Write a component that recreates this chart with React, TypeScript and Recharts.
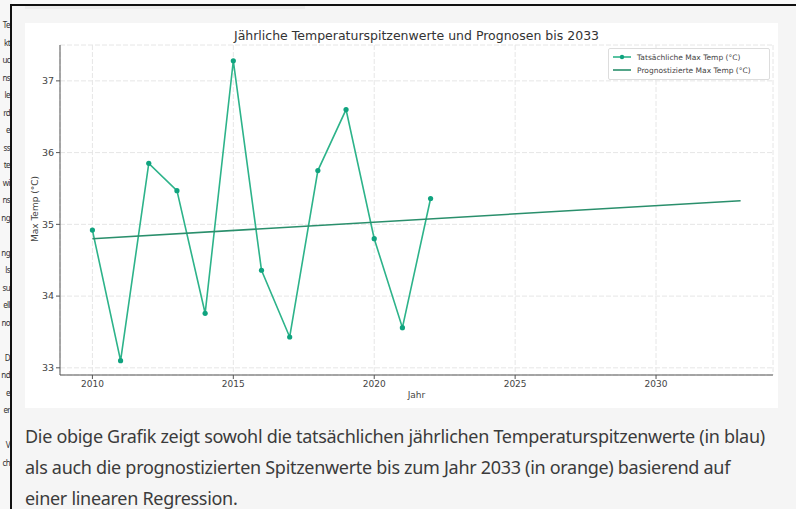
import { LineChart, Line, XAxis, YAxis, CartesianGrid } from 'recharts';

// values
const years = [2010, 2011, 2012, 2013, 2014, 2015, 2016, 2017, 2018, 2019, 2020, 2021, 2022];
const actualTemps = [34.92, 33.1, 35.85, 35.47, 33.76, 37.28, 34.36, 33.43, 35.75, 36.6, 34.8, 33.56, 35.36];
const trendYears = [2010, 2033];
const trendTemps = [34.8, 35.33];
const xTicks = [2010, 2015, 2020, 2025, 2030];
const yTicks = [33, 34, 35, 36, 37];

const title = 'Jährliche Temperaturspitzenwerte und Prognosen bis 2033';
const legendLabels = ['Tatsächliche Max Temp (°C)', 'Prognostizierte Max Temp (°C)'];
const paragraph = [
  'Die obige Grafik zeigt sowohl die tatsächlichen jährlichen Temperaturspitzenwerte (in blau)',
  'als auch die prognostizierten Spitzenwerte bis zum Jahr 2033 (in orange) basierend auf',
  'einer linearen Regression.',
];
// bits of the neighbouring window that show at the far left
const sideFragments = ['Te', 'kt', 'uc', 'ns', 'le', 'rd', 'e', 'ss', 'te', 'wi', 'ns', 'ng', '', 'ng', 'ls', 'su', 'ell', 'no', '', 'D', 'nd', 'e', 'er', '', 'V', 'ch'];

const actualData = years.map((year, i) => ({ year, temp: actualTemps[i] }));
const trendData = trendYears.map((year, i) => ({ year, temp: trendTemps[i] }));

const mpl = '"DejaVu Sans", sans-serif';
const green = '#2db38a';
const darkGreen = '#2a8f6c';

export default function App() {
  return (
    <div style={{ position: 'absolute', left: 0, top: 0, width: 796, height: 509, background: '#f5f5f5', overflow: 'hidden' }}>
      {/* left strip */}
      <div style={{ position: 'absolute', left: 0, top: 0, width: 10, height: 509, background: '#f7f7f7', overflow: 'hidden' }}>
        {sideFragments.map((t, i) => (
          <div key={i} style={{ position: 'absolute', right: 0, top: 19 + i * 17.5, fontSize: 8, lineHeight: '11px', letterSpacing: -0.6, color: '#333', fontFamily: '"Noto Sans", sans-serif', whiteSpace: 'nowrap' }}>
            {t}
          </div>
        ))}
      </div>
      <div style={{ position: 'absolute', left: 10, top: 4, width: 2, height: 505, background: '#111' }} />
      <div style={{ position: 'absolute', left: 10, top: 4, width: 786, height: 2, background: '#111' }} />
      <div style={{ position: 'absolute', left: 477, top: 0, width: 2, height: 5, background: '#111' }} />
      <div style={{ position: 'absolute', left: 12, top: 0, width: 784, height: 4, background: '#fafafa' }} />
      <div style={{ position: 'absolute', left: 25, top: 6, width: 280, height: 3, background: '#ececec' }} />

      {/* chart card */}
      <div style={{ position: 'absolute', left: 25, top: 23, width: 753, height: 385, background: '#ffffff' }}>
        <LineChart width={753} height={385} margin={{ top: 22, right: 5, left: 0, bottom: 0 }}>
          <CartesianGrid stroke="#e6e6e6" strokeDasharray="5 2" />
          <XAxis
            dataKey="year"
            type="number"
            domain={[2008.85, 2034.15]}
            ticks={xTicks}
            allowDataOverflow
            height={33}
            tickSize={4}
            tickMargin={2}
            stroke="#555"
            tick={{ fill: '#444', fontSize: 9, fontFamily: mpl }}
          />
          <YAxis
            type="number"
            domain={[32.9, 37.5]}
            ticks={yTicks}
            allowDataOverflow
            width={35}
            tickSize={4}
            tickMargin={2}
            stroke="#555"
            tick={{ fill: '#444', fontSize: 9.5, fontFamily: mpl }}
          />
          <Line
            data={actualData}
            dataKey="temp"
            stroke={green}
            strokeWidth={1.6}
            dot={{ r: 2.6, fill: '#10a37f', stroke: '#10a37f', strokeWidth: 0 }}
            isAnimationActive={false}
          />
          <Line
            data={trendData}
            dataKey="temp"
            stroke={darkGreen}
            strokeWidth={1.6}
            dot={false}
            isAnimationActive={false}
          />
        </LineChart>

        <div style={{ position: 'absolute', left: 0, width: 783, top: 5, textAlign: 'center', fontFamily: mpl, fontSize: 12.5, color: '#333' }}>
          {title}
        </div>
        <div style={{ position: 'absolute', left: 0, width: 783, top: 367, textAlign: 'center', fontFamily: mpl, fontSize: 9, color: '#444' }}>
          Jahr
        </div>
        <div style={{ position: 'absolute', left: 10, top: 187, width: 0, height: 0 }}>
          <div style={{ position: 'absolute', left: -50, top: -6, width: 100, textAlign: 'center', transform: 'rotate(-90deg)', fontFamily: mpl, fontSize: 9, color: '#444', whiteSpace: 'nowrap' }}>
            Max Temp (°C)
          </div>
        </div>

        {/* legend */}
        <div style={{ position: 'absolute', left: 583, top: 25, width: 160, height: 30, border: '1px solid #ddd', borderRadius: 2, background: '#fff', fontFamily: mpl, fontSize: 7.5, color: '#444' }}>
          {legendLabels.map((label, i) => (
            <div key={label} style={{ position: 'absolute', left: 4, top: 3 + i * 13, height: 10, display: 'flex', alignItems: 'center', whiteSpace: 'nowrap' }}>
              <svg width={18} height={10} style={{ marginRight: 6 }}>
                <line x1={0} y1={5} x2={18} y2={5} stroke={i === 0 ? green : darkGreen} strokeWidth={1.6} />
                {i === 0 && <circle cx={9} cy={5} r={2.2} fill="#10a37f" />}
              </svg>
              {label}
            </div>
          ))}
        </div>
      </div>

      {/* text below the chart */}
      <div style={{ position: 'absolute', left: 25, top: 421, fontFamily: '"Noto Sans", sans-serif', fontSize: 18, letterSpacing: -0.3, lineHeight: '31px', color: '#3b3b3b', whiteSpace: 'nowrap' }}>
        {paragraph.map((line) => (
          <div key={line}>{line}</div>
        ))}
      </div>
    </div>
  );
}
